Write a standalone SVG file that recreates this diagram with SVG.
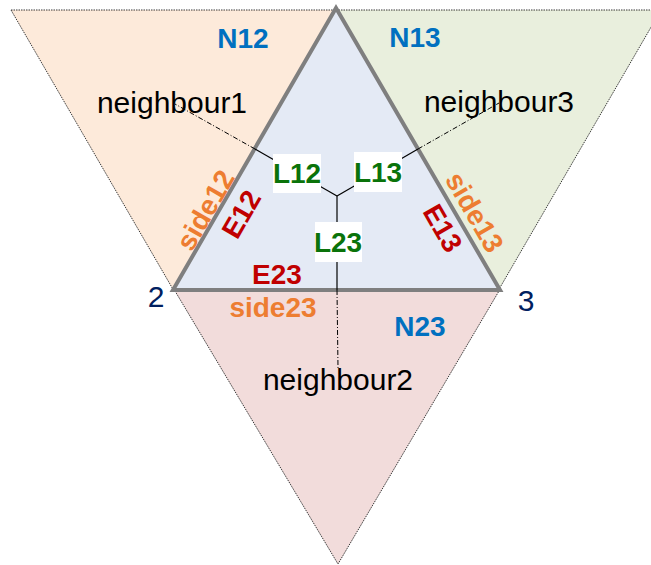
<svg xmlns="http://www.w3.org/2000/svg" width="651" height="565" viewBox="0 0 651 565">
<style>
.nb{stroke:#222;stroke-width:0.9;stroke-dasharray:1.5 1}
.main{fill:#E4EAF5;stroke:#7F7F7F;stroke-width:4;stroke-linejoin:miter}
.t{font-family:"Liberation Sans",Arial,sans-serif}
.reg{font-size:30px;fill:#000}
.b{font-weight:bold;font-size:28px}
.blue{fill:#0070C0}
.org{fill:#ED7D31}
.red{fill:#C00000}
.grn{fill:#0A730A}
.navy{fill:#002060;font-size:30px}
.solid{stroke:#000;stroke-width:1.2;fill:none}
.dd{stroke:#000;stroke-width:1;fill:none;stroke-dasharray:5 2 1 2}
.box{fill:#FFFFFF}
</style>
<rect width="651" height="565" fill="#FFFFFF"/>
<g id="N12">
<polygon class="nb" points="11,10 336,10 174,291" fill="#FDEADA"/>
</g>
<g id="N13">
<polygon class="nb" points="336,10 661,10 498,291" fill="#E9EFDD"/>
</g>
<g id="N23">
<polygon class="nb" points="175,291 499,291 338,564" fill="#F2DCDB"/>
</g>
<g id="main">
<polygon class="main" points="336,8 173,290 500,290"/>
</g>
<g id="connectors">
<line class="solid" x1="337" y1="196" x2="255" y2="149"/>
<line class="solid" x1="337" y1="196" x2="418" y2="149"/>
<line class="solid" x1="337" y1="196" x2="337" y2="290"/>
<line class="dd" x1="255" y1="149" x2="175" y2="104"/>
<line class="dd" x1="418" y1="149" x2="499" y2="103"/>
<line class="dd" x1="337" y1="290" x2="338" y2="368"/>
</g>
<g id="labels" class="t">
<text class="b blue" x="243" y="48" text-anchor="middle">N12</text>
<text class="b blue" x="415" y="47" text-anchor="middle">N13</text>
<text class="b blue" x="420" y="336" text-anchor="middle">N23</text>
<text class="reg" x="172" y="113" text-anchor="middle">neighbour1</text>
<text class="reg" x="499" y="112" text-anchor="middle">neighbour3</text>
<text class="reg" x="338" y="390" text-anchor="middle">neighbour2</text>
<text class="navy" x="156" y="307" text-anchor="middle">2</text>
<text class="navy" x="526" y="311" text-anchor="middle">3</text>
<text class="b red" x="277" y="284" text-anchor="middle">E23</text>
<text class="b org" x="273" y="317" text-anchor="middle">side23</text>
<text class="b org" transform="translate(205,210) rotate(-60)" x="0" y="10" text-anchor="middle">side12</text>
<text class="b red" transform="translate(241,214) rotate(-60)" x="0" y="10" text-anchor="middle">E12</text>
<text class="b org" transform="translate(475,212) rotate(60)" x="0" y="10" text-anchor="middle">side13</text>
<text class="b red" transform="translate(443,228) rotate(60)" x="0" y="10" text-anchor="middle">E13</text>
</g>
<g id="L12">
<rect class="box" x="273" y="154" width="48" height="39"/>
<text class="t b grn" x="297" y="183" text-anchor="middle">L12</text>
</g>
<g id="L13">
<rect class="box" x="354" y="152" width="48" height="40"/>
<text class="t b grn" x="378" y="182" text-anchor="middle">L13</text>
</g>
<g id="L23">
<rect class="box" x="315" y="222" width="47" height="40"/>
<text class="t b grn" x="338" y="252" text-anchor="middle">L23</text>
</g>
</svg>
